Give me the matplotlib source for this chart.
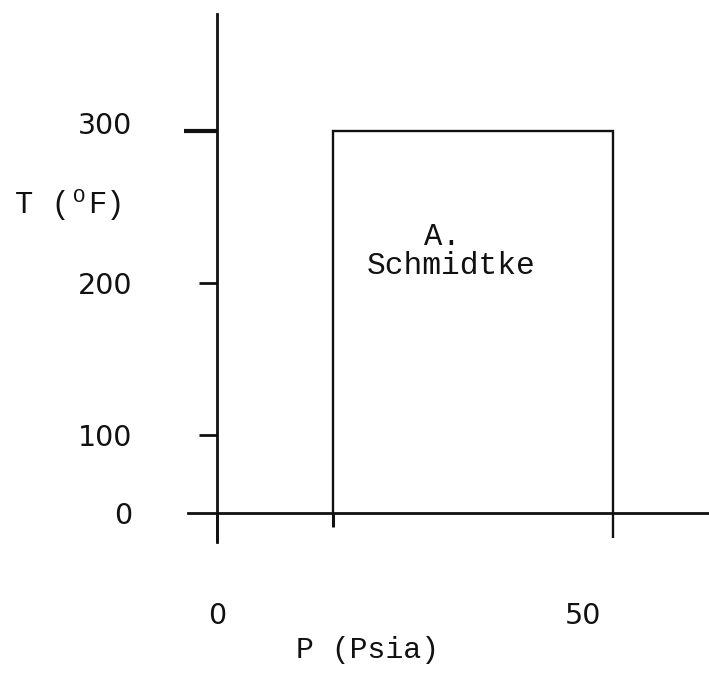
import numpy as np
import matplotlib
matplotlib.use("Agg")
import matplotlib.pyplot as plt
from matplotlib.transforms import ScaledTranslation

# data
p_box = [14.7, 14.7, 50, 50]          # psia
t_box = [0, 300, 300, 0]              # deg F
y_ticks = [0, 100, 200, 300]
y_labels = ["0", "100", "200", "300"]
x_ticks = [0, 14.7, 50]
x_labels = ["0", "", "50"]
note = ("A.", "Schmidtke")

MONO = "Liberation Mono"
DIGITS = "DejaVu Sans"
INK = "#111111"
DPI = 100


# hand-drawn axis: 0-100 is squeezed, 100-300 evenly spaced
def fwd(t):
    t = np.asarray(t, dtype=float)
    return np.where(t < 100, 0.78 * t, 78 + 1.52 * (t - 100))


def inv(u):
    u = np.asarray(u, dtype=float)
    return np.where(u < 78, u / 0.78, 100 + (u - 78) / 1.52)


fig = plt.figure(figsize=(7.09, 6.76), dpi=DPI)
ax = fig.add_axes([0, 0, 1, 1])
ax.set_yscale("function", functions=(fwd, inv))
ax.set_xlim(-217 / 7.92, 492 / 7.92)
ax.set_ylim(float(inv(-163)), float(inv(513)))

for s in ("top", "right"):
    ax.spines[s].set_visible(False)
ax.spines["left"].set_position(("data", 0))
ax.spines["bottom"].set_position(("data", 0))
ax.spines["left"].set_bounds(float(inv(-29)), float(inv(499)))
ax.spines["bottom"].set_bounds(-29 / 7.92, 492 / 7.92)
for s in ("left", "bottom"):
    ax.spines[s].set_linewidth(2.0)
    ax.spines[s].set_color(INK)

px = 72 / DPI  # points per pixel

# y ticks
ax.set_yticks(y_ticks)
ax.set_yticklabels(y_labels, fontfamily=DIGITS, fontsize=20.5, color=INK)
ax.tick_params(axis="y", direction="out", length=18 * px, width=2.0,
               pad=(85 - 18) * px, colors=INK)
yt = ax.yaxis.get_major_ticks()
yt[0].tick1line.set_markersize(0)
yt[3].tick1line.set_markersize(33 * px)
yt[3].tick1line.set_markeredgewidth(3.0)
yt[3].label1.set_transform(yt[3].label1.get_transform()
                           + ScaledTranslation(0, 8 / DPI, fig.dpi_scale_trans))

# x ticks (box sides poke below the axis)
ax.set_xticks(x_ticks)
ax.set_xticklabels(x_labels, fontfamily=DIGITS, fontsize=20.5, color=INK)
ax.tick_params(axis="x", direction="out", length=29 * px, width=2.0,
               pad=(89 - 29) * px, colors=INK)
xt = ax.xaxis.get_major_ticks()
xt[1].tick1line.set_markersize(14 * px)
xt[1].tick1line.set_markeredgewidth(2.2)
xt[2].tick1line.set_markersize(25 * px)
xt[2].tick1line.set_markeredgewidth(1.7)
xt[2].label1.set_transform(xt[2].label1.get_transform()
                           + ScaledTranslation(-30 / DPI, 0, fig.dpi_scale_trans))

# the box
ax.plot(p_box, t_box, color=INK, lw=1.7, solid_joinstyle="miter", clip_on=False)

# annotation inside the box
ax.text(28.4, float(inv(513 - 237)), note[0], fontfamily=MONO, fontsize=22,
        ha="center", va="center", color=INK)
ax.text(29.6, float(inv(513 - 266)), note[1], fontfamily=MONO, fontsize=22.5,
        ha="center", va="center", color=INK)

# axis titles
ax.text(367 / 709, 1 - 650 / 676, "P (Psia)", transform=ax.transAxes,
        fontfamily=MONO, fontsize=21.5, ha="center", va="center", color=INK)
ax.text(15 / 709, 1 - 205 / 676, "T (", transform=ax.transAxes,
        fontfamily=MONO, fontsize=22, ha="left", va="center", color=INK)
ax.text(79 / 709, 1 - 197 / 676, "O", transform=ax.transAxes,
        fontfamily=MONO, fontsize=15, ha="center", va="center", color=INK)
ax.text(88 / 709, 1 - 205 / 676, "F)", transform=ax.transAxes,
        fontfamily=MONO, fontsize=22, ha="left", va="center", color=INK)

fig.savefig("out.png", dpi=DPI)
